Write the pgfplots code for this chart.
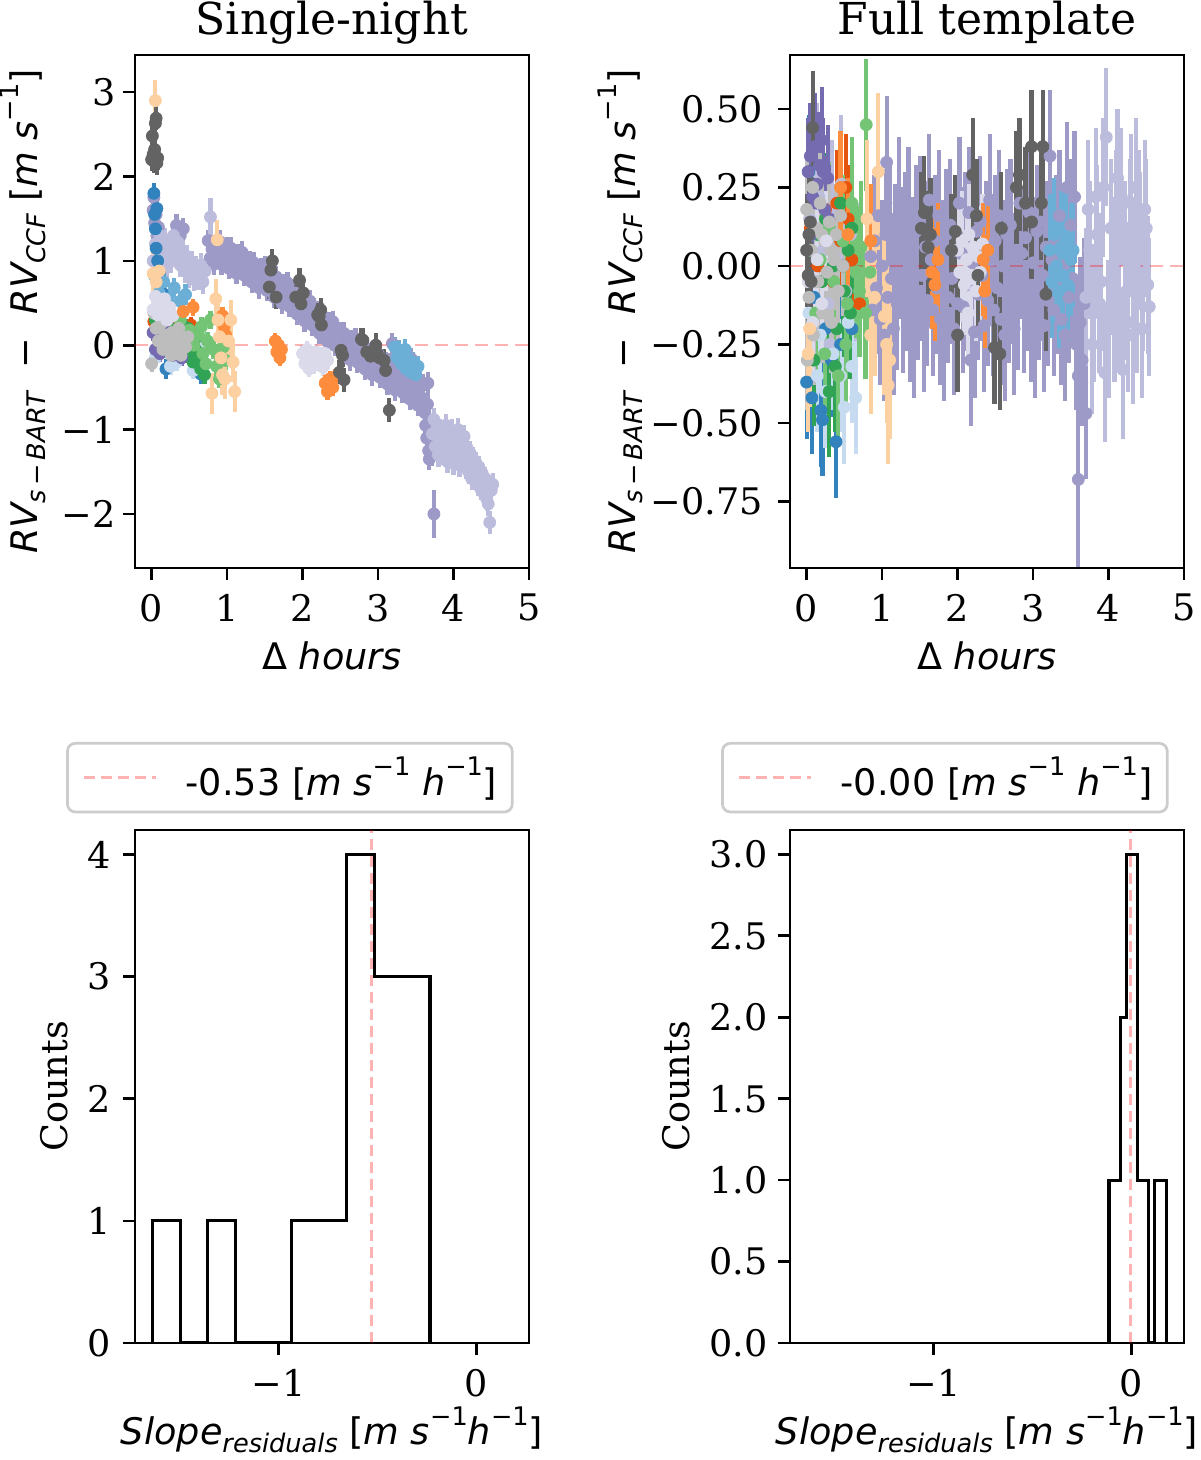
\documentclass[border=0pt]{standalone}
\usepackage{fontspec}
\setmainfont{DejaVu Serif}
\newfontfamily\dvs{DejaVu Sans}
\usepackage{pgfplots}
\pgfplotsset{compat=1.18}
\definecolor{c1}{HTML}{3182BD}
\definecolor{c2}{HTML}{6BAED6}
\definecolor{c3}{HTML}{9ECAE1}
\definecolor{c4}{HTML}{C6DBEF}
\definecolor{c5}{HTML}{E6550D}
\definecolor{c6}{HTML}{FD8D3C}
\definecolor{c7}{HTML}{FDAE6B}
\definecolor{c8}{HTML}{FDD0A2}
\definecolor{c9}{HTML}{31A354}
\definecolor{c10}{HTML}{74C476}
\definecolor{c13}{HTML}{756BB1}
\definecolor{c14}{HTML}{9E9AC8}
\definecolor{c15}{HTML}{BCBDDC}
\definecolor{c16}{HTML}{DADAEB}
\definecolor{c17}{HTML}{636363}
\definecolor{c19}{HTML}{BDBDBD}
\newcommand{\lab}{\fontsize{18.3}{22}\selectfont}
\newcommand{\sbs}[1]{\raisebox{-0.2em}{\fontsize{12.8}{15}\selectfont #1}}
\newcommand{\sps}[1]{\raisebox{0.52em}{\fontsize{12.8}{15}\selectfont #1}}
\pgfplotsset{
  base/.style={scale only axis, width=197pt, height=256.5pt, anchor=south west,
    axis line style={line width=1.35pt}, tick align=outside, tick pos=left,
    major tick length=6.1pt, major tick style={line width=1.35pt, black},
    tick label style={font=\lab}, label style={font=\lab},
    xticklabel style={yshift=-3.5pt},
    title style={font=\fontsize{22}{26}\selectfont, at={(axis description cs:0.5,1)}, anchor=base, yshift=4pt},
    xlabel style={at={(axis description cs:0.5,0)}, anchor=base, yshift=-51pt}},
  rv/.style={only marks, mark=*, mark size=3pt, color=#1, mark options={draw=none, fill=#1},
    error bars/y dir=both, error bars/y explicit, error bars/error mark=none,
    error bars/error bar style={line width=2.1pt, color=#1}},
  zl/.style={red, opacity=0.3, line width=1.2pt, dash pattern=on 6.5pt off 3.5pt},
  leg/.style={legend style={at={(axis description cs:0.393,1.102)}, anchor=center, draw=black!20, line width=1.35pt,
    rounded corners=4pt, fill=white, inner xsep=7.5pt, inner ysep=7pt, font=\lab, nodes={inner sep=0pt}},
    legend image code/.code={\draw[##1] (0pt,0pt) -- (36pt,0pt); \path[draw=none] (0pt,0pt) -- (51pt,0pt);}},
}
\begin{document}
\begin{tikzpicture}
\useasboundingbox (0,0) rectangle (600pt,730pt);
% ---------------- Single-night ----------------
\begin{axis}[base, at={(67.5pt,446pt)}, xmin=-0.22, xmax=5, ymin=-2.64, ymax=3.44,
  xtick={0,1,2,3,4,5}, xticklabels={0,1,2,3,4,5},
  ytick={-2,-1,0,1,2,3}, yticklabels={−2,−1,0,1,2,3},
  title={Single-night},
  xlabel={\dvs Δ \itshape hours},
  ylabel={\dvs\itshape RV\sbs{s\,\upshape−\,\itshape BART}\ \ \upshape−\ \ \itshape RV\sbs{CCF}\ \upshape[\itshape m s\sps{\upshape−1}\upshape]},
  ylabel style={at={(axis description cs:-0.285,0.5)}, anchor=center}]
\addplot[rv=c14] table[row sep=\\, y error expr=0.13] {x y\\ 0.02 1.60\\ 0.03 1.75\\ 0.04 1.45\\ 0.06 1.55\\ 0.07 1.30\\ 0.09 1.40\\ 0.30 1.25\\ 0.33 1.42\\ 0.38 1.30\\ 0.42 1.38\\ 0.750 1.24\\ 0.775 1.03\\ 0.800 1.14\\ 0.825 0.96\\ 0.850 1.18\\ 0.875 1.07\\ 0.900 1.23\\ 0.925 0.96\\ 0.950 1.11\\ 0.975 1.00\\ 1.000 1.15\\ 1.025 0.91\\ 1.050 1.15\\ 1.075 0.93\\ 1.100 1.03\\ 1.125 0.85\\ 1.150 1.07\\ 1.175 0.94\\ 1.200 1.10\\ 1.225 0.83\\ 1.250 0.97\\ 1.275 0.85\\ 1.300 0.99\\ 1.325 0.75\\ 1.350 0.98\\ 1.375 0.77\\ 1.400 0.87\\ 1.425 0.68\\ 1.450 0.90\\ 1.475 0.77\\ 1.500 0.93\\ 1.525 0.65\\ 1.550 0.80\\ 1.575 0.67\\ 1.600 0.82\\ 1.625 0.57\\ 1.650 0.81\\ 1.675 0.59\\ 1.700 0.68\\ 1.725 0.50\\ 1.750 0.71\\ 1.775 0.58\\ 1.800 0.74\\ 1.825 0.46\\ 1.850 0.60\\ 1.875 0.47\\ 1.900 0.62\\ 1.925 0.37\\ 1.950 0.60\\ 1.975 0.39\\ 2.000 0.48\\ 2.025 0.29\\ 2.050 0.50\\ 2.075 0.37\\ 2.100 0.52\\ 2.125 0.24\\ 2.150 0.38\\ 2.175 0.25\\ 2.200 0.39\\ 2.225 0.14\\ 2.250 0.37\\ 2.275 0.15\\ 2.300 0.24\\ 2.325 0.05\\ 2.350 0.26\\ 2.375 0.13\\ 2.400 0.28\\ 2.425 0.00\\ 2.450 0.14\\ 2.475 0.01\\ 2.500 0.15\\ 2.525 -0.10\\ 2.550 0.14\\ 2.575 -0.08\\ 2.600 0.02\\ 2.625 -0.17\\ 2.650 0.05\\ 2.675 -0.08\\ 2.700 0.08\\ 2.725 -0.20\\ 2.750 -0.05\\ 2.775 -0.18\\ 2.800 -0.03\\ 2.825 -0.28\\ 2.850 -0.04\\ 2.875 -0.26\\ 2.900 -0.16\\ 2.925 -0.35\\ 2.950 -0.13\\ 2.975 -0.26\\ 3.000 -0.10\\ 3.025 -0.38\\ 3.050 -0.23\\ 3.075 -0.36\\ 3.100 -0.21\\ 3.125 -0.46\\ 3.150 -0.22\\ 3.175 -0.44\\ 3.190 0.02\\ 3.200 -0.34\\ 3.225 -0.53\\ 3.250 -0.31\\ 3.275 -0.44\\ 3.300 -0.29\\ 3.325 -0.56\\ 3.350 -0.42\\ 3.375 -0.54\\ 3.400 -0.40\\ 3.425 -0.64\\ 3.440 -0.16\\ 3.450 -0.41\\ 3.475 -0.62\\ 3.500 -0.53\\ 3.525 -0.71\\ 3.550 -0.50\\ 3.575 -0.62\\ 3.600 -0.47\\ 3.620 -0.80\\ 3.630 -0.95\\ 3.645 -1.10\\ 3.655 -0.70\\ 3.660 -0.45\\ 3.670 -1.25\\ 3.680 -1.35\\ 3.690 -1.05\\ 3.710 -1.30\\};
\addplot[rv=c14] table[row sep=\\, y error expr=0.28] {x y\\ 3.74 -2.00\\};
\addplot[rv=c15] table[row sep=\\, y error expr=0.14] {x y\\ 0.02 1.00\\ 0.05 1.20\\ 0.08 0.95\\ 0.11 1.30\\ 0.14 1.05\\ 0.17 1.25\\ 0.20 0.92\\ 0.23 1.18\\ 0.26 1.00\\ 0.29 1.30\\ 0.32 1.08\\ 0.35 1.22\\ 0.38 0.95\\ 0.41 1.12\\ 0.44 0.88\\ 0.47 1.05\\ 0.50 0.82\\ 0.53 0.98\\ 0.56 0.78\\ 0.59 0.92\\ 0.62 0.80\\ 0.65 0.95\\ 0.68 0.75\\ 0.71 0.88\\ 3.72 -1.05\\ 3.74 -0.88\\ 3.76 -1.20\\ 3.78 -0.98\\ 3.80 -1.30\\ 3.82 -1.02\\ 3.84 -1.28\\ 3.86 -1.10\\ 3.88 -1.22\\ 3.90 -0.95\\ 3.92 -1.38\\ 3.94 -1.15\\ 3.96 -1.30\\ 3.98 -1.02\\ 4.00 -1.40\\ 4.02 -1.12\\ 4.04 -1.30\\ 4.06 -1.00\\ 4.08 -1.42\\ 4.10 -1.20\\ 4.12 -1.35\\ 4.14 -1.08\\ 4.16 -1.45\\ 4.18 -1.22\\ 4.20 -1.50\\ 4.22 -1.28\\ 4.24 -1.58\\ 4.26 -1.35\\ 4.28 -1.55\\ 4.30 -1.40\\ 4.32 -1.65\\ 4.34 -1.45\\ 4.36 -1.70\\ 4.38 -1.52\\ 4.40 -1.75\\ 4.42 -1.58\\ 4.44 -1.82\\ 4.46 -1.88\\ 4.48 -2.10\\ 4.50 -1.72\\ 4.52 -1.65\\};
\addplot[rv=c15] table[row sep=\\, y error expr=0.22] {x y\\ 0.78 1.52\\};
\addplot[rv=c1] table[row sep=\\, y error expr=0.12] {x y\\ 0.03 1.80\\ 0.04 1.55\\ 0.05 1.38\\ 0.06 1.15\\ 0.07 1.62\\ 0.08 1.00\\ 0.10 0.85\\ 0.14 0.62\\ 0.20 0.45\\ 0.28 0.30\\ 0.19 -0.28\\ 0.40 0.12\\ 0.55 -0.15\\ 0.65 -0.34\\ 0.35 0.05\\ 0.62 -0.25\\};
\addplot[rv=c2] table[row sep=\\, y error expr=0.12] {x y\\ 0.04 0.82\\ 0.10 0.62\\ 0.16 0.75\\ 0.22 0.55\\ 0.30 0.68\\ 0.38 0.52\\ 0.45 0.60\\};
\addplot[rv=c4] table[row sep=\\, y error expr=0.1] {x y\\ 0.05 -0.15\\ 0.12 -0.05\\ 0.25 -0.25\\ 0.40 -0.10\\ 0.55 -0.30\\ 0.70 0.05\\ 0.33 -0.20\\};
\addplot[rv=c5] table[row sep=\\, y error expr=0.1] {x y\\ 0.03 0.28\\ 0.10 0.20\\ 0.18 0.15\\ 0.30 0.22\\ 0.45 0.10\\ 0.60 0.18\\ 0.52 0.24\\};
\addplot[rv=c9] table[row sep=\\, y error expr=0.11] {x y\\ 0.05 0.30\\ 0.10 0.10\\ 0.15 0.35\\ 0.20 0.00\\ 0.25 0.20\\ 0.30 -0.05\\ 0.35 0.15\\ 0.40 0.25\\ 0.45 -0.10\\ 0.50 0.05\\ 0.55 -0.20\\ 0.60 0.10\\ 0.65 -0.28\\ 0.70 -0.35\\ 0.62 -0.15\\ 0.48 0.20\\ 0.58 -0.05\\};
\addplot[rv=c10] table[row sep=\\, y error expr=0.11] {x y\\ 0.08 0.20\\ 0.14 0.05\\ 0.20 0.28\\ 0.26 -0.05\\ 0.32 0.12\\ 0.38 0.30\\ 0.44 0.02\\ 0.50 0.18\\ 0.56 0.00\\ 0.62 0.12\\ 0.68 -0.10\\ 0.74 0.05\\ 0.78 0.30\\ 0.82 -0.05\\ 0.86 -0.25\\ 0.90 -0.40\\ 0.95 -0.02\\ 0.98 -0.18\\ 0.72 -0.22\\ 0.66 0.22\\};
\addplot[rv=c13] table[row sep=\\, y error expr=0.1] {x y\\ 0.02 0.15\\ 0.05 -0.05\\ 0.08 0.10\\ 0.11 -0.10\\ 0.14 0.05\\ 0.17 0.18\\ 0.20 -0.02\\ 0.24 0.08\\ 0.28 -0.12\\ 0.32 0.02\\ 0.36 -0.08\\ 0.40 -0.15\\ 0.44 0.00\\};
\addplot[rv=c19] table[row sep=\\, y error expr=0.1] {x y\\ 0.00 -0.22\\ 0.03 0.38\\ 0.06 0.20\\ 0.09 0.05\\ 0.12 0.25\\ 0.15 -0.05\\ 0.18 0.12\\ 0.21 0.30\\ 0.24 0.02\\ 0.27 0.15\\ 0.30 -0.08\\ 0.33 0.08\\ 0.36 0.20\\ 0.39 -0.12\\ 0.42 0.05\\ 0.45 -0.02\\ 0.48 0.10\\ 0.26 -0.12\\ 0.35 0.00\\};
\addplot[rv=c16] table[row sep=\\, y error expr=0.1] {x y\\ 0.02 0.42\\ 0.05 0.58\\ 0.08 0.36\\ 0.11 0.50\\ 0.14 0.40\\ 0.17 0.55\\ 0.20 0.30\\ 0.24 0.45\\ 0.28 0.35\\ 2.00 -0.10\\ 2.03 -0.22\\ 2.06 -0.05\\ 2.09 -0.28\\ 2.12 -0.14\\ 2.15 -0.24\\ 2.18 -0.08\\ 2.21 -0.20\\ 2.24 -0.12\\ 2.27 -0.26\\ 2.30 -0.10\\ 2.33 -0.18\\};
\addplot[rv=c2] table[row sep=\\, y error expr=0.12] {x y\\ 3.22 -0.02\\ 3.25 -0.15\\ 3.28 -0.06\\ 3.31 -0.22\\ 3.34 -0.10\\ 3.37 -0.28\\ 3.40 -0.16\\ 3.43 -0.32\\ 3.46 -0.20\\ 3.50 -0.35\\ 3.53 -0.25\\ 3.36 -0.05\\};
\addplot[rv=c6] table[row sep=\\, y error expr=0.1] {x y\\ 1.64 0.05\\ 1.66 -0.08\\ 1.68 0.00\\ 1.70 -0.15\\ 1.72 -0.05\\ 2.30 -0.45\\ 2.33 -0.55\\ 2.36 -0.40\\ 2.40 -0.50\\ 2.43 -0.38\\ 0.55 0.45\\ 0.94 0.35\\ 0.96 0.22\\ 0.98 0.12\\ 0.42 0.40\\};
\addplot[rv=c8] table[row sep=\\, y error expr=0.24] {x y\\ 0.05 2.90\\ 0.02 0.85\\ 0.06 0.75\\ 0.10 0.88\\ 0.85 0.55\\ 0.87 1.25\\ 0.88 0.30\\ 0.90 0.10\\ 0.92 -0.15\\ 0.94 -0.35\\ 0.80 -0.57\\ 1.02 0.05\\ 1.05 0.30\\ 1.08 -0.20\\ 1.10 -0.55\\ 0.97 -0.40\\};
\addplot[rv=c17] table[row sep=\\, y error expr=0.14] {x y\\ 0.00 2.20\\ 0.01 2.48\\ 0.02 2.26\\ 0.03 2.18\\ 0.04 2.32\\ 0.05 2.63\\ 0.06 2.69\\ 0.07 2.16\\ 0.08 2.22\\ 1.56 0.69\\ 1.58 0.89\\ 1.60 1.00\\ 1.65 0.57\\ 1.91 0.57\\ 1.96 0.77\\ 1.98 0.49\\ 2.01 0.62\\ 2.20 0.36\\ 2.22 0.34\\ 2.24 0.42\\ 2.25 0.24\\ 2.49 -0.32\\ 2.51 -0.06\\ 2.53 -0.12\\ 2.55 -0.41\\ 2.78 0.07\\ 2.80 0.06\\ 2.85 -0.08\\ 2.90 -0.13\\ 2.97 0.00\\ 2.99 -0.10\\ 3.02 -0.15\\ 3.08 -0.18\\ 3.10 -0.30\\ 3.15 -0.77\\};
\addplot[zl] coordinates {(-0.22,0) (5,0)};
\end{axis}
% ---------------- Full template ----------------
\begin{axis}[base, at={(395pt,446pt)}, xmin=-0.22, xmax=5, ymin=-0.962, ymax=0.672,
  xtick={0,1,2,3,4,5}, xticklabels={0,1,2,3,4,5},
  ytick={-0.75,-0.5,-0.25,0,0.25,0.5}, yticklabels={−0.75,−0.50,−0.25,0.00,0.25,0.50},
  yticklabel style={xshift=-4pt},
  title={Full template},
  xlabel={\dvs Δ \itshape hours},
  ylabel={\dvs\itshape RV\sbs{s\,\upshape−\,\itshape BART}\ \ \upshape−\ \ \itshape RV\sbs{CCF}\ \upshape[\itshape m s\sps{\upshape−1}\upshape]},
  ylabel style={at={(axis description cs:-0.43,0.5)}, anchor=center}]
\addplot[rv=c14] table[row sep=\\, y error expr=0.21] {x y\\ 0.850 0.03\\ 0.875 -0.14\\ 0.900 0.08\\ 0.925 -0.07\\ 0.950 0.16\\ 0.975 -0.17\\ 1.000 0.00\\ 1.025 -0.22\\ 1.050 0.10\\ 1.060 0.33\\ 1.075 -0.10\\ 1.100 0.13\\ 1.125 -0.04\\ 1.150 -0.20\\ 1.175 0.05\\ 1.200 -0.12\\ 1.225 0.20\\ 1.250 0.04\\ 1.275 -0.13\\ 1.300 0.09\\ 1.325 -0.06\\ 1.350 0.17\\ 1.375 -0.16\\ 1.400 0.01\\ 1.425 -0.21\\ 1.450 0.11\\ 1.475 -0.09\\ 1.500 0.14\\ 1.525 -0.03\\ 1.550 -0.19\\ 1.575 0.06\\ 1.600 -0.11\\ 1.625 0.21\\ 1.650 0.02\\ 1.675 -0.14\\ 1.700 0.08\\ 1.725 -0.07\\ 1.750 0.16\\ 1.775 -0.17\\ 1.800 0.00\\ 1.825 -0.22\\ 1.850 0.10\\ 1.875 -0.10\\ 1.900 0.13\\ 1.925 -0.04\\ 1.950 -0.20\\ 1.975 0.05\\ 2.000 -0.12\\ 2.025 0.20\\ 2.050 0.04\\ 2.075 -0.13\\ 2.100 0.09\\ 2.125 -0.06\\ 2.150 0.17\\ 2.175 -0.30\\ 2.200 0.01\\ 2.225 -0.21\\ 2.250 0.11\\ 2.275 -0.09\\ 2.300 0.14\\ 2.325 -0.03\\ 2.350 -0.19\\ 2.375 0.06\\ 2.400 -0.11\\ 2.425 0.21\\ 2.450 0.02\\ 2.475 -0.14\\ 2.500 0.08\\ 2.525 -0.07\\ 2.550 0.16\\ 2.575 -0.17\\ 2.600 0.00\\ 2.625 -0.22\\ 2.650 0.10\\ 2.675 -0.10\\ 2.700 0.13\\ 2.725 -0.04\\ 2.750 -0.20\\ 2.775 0.05\\ 2.800 -0.12\\ 2.825 0.20\\ 2.850 0.04\\ 2.875 -0.13\\ 2.900 0.09\\ 2.925 -0.06\\ 2.950 0.17\\ 2.975 -0.16\\ 3.000 0.01\\ 3.025 -0.21\\ 3.050 0.11\\ 3.075 -0.09\\ 3.100 0.14\\ 3.125 -0.03\\ 3.150 -0.19\\ 3.175 0.06\\ 3.200 -0.11\\ 3.225 0.35\\ 3.250 0.02\\ 3.275 -0.14\\ 3.300 0.08\\ 3.325 -0.07\\ 3.350 0.16\\ 3.375 -0.17\\ 3.400 0.00\\ 3.425 -0.22\\ 3.450 0.25\\ 3.475 -0.10\\ 3.500 0.13\\ 3.525 -0.04\\ 3.550 0.22\\ 3.575 -0.25\\ 3.600 -0.35\\ 3.625 -0.18\\ 3.650 -0.30\\ 3.675 -0.12\\ 3.700 -0.47\\};
\addplot[rv=c14] table[row sep=\\, y error expr=0.28] {x y\\ 3.60 -0.68\\};
\addplot[rv=c15] table[row sep=\\, y error expr=0.22] {x y\\ 0.04 0.15\\ 0.10 -0.05\\ 0.16 0.22\\ 0.22 0.05\\ 0.28 -0.12\\ 0.34 0.18\\ 0.40 0.02\\ 0.46 0.26\\ 0.52 -0.08\\ 0.58 0.10\\ 0.66 -0.02\\ 0.13 0.30\\ 0.31 -0.25\\ 3.70 -0.10\\ 3.73 0.18\\ 3.75 0.05\\ 3.78 -0.25\\ 3.80 -0.15\\ 3.83 0.22\\ 3.85 0.10\\ 3.88 -0.12\\ 3.90 -0.05\\ 3.93 0.25\\ 3.95 -0.34\\ 3.97 0.41\\ 4.00 -0.20\\ 4.03 0.12\\ 4.06 0.00\\ 4.08 -0.15\\ 4.10 0.15\\ 4.12 0.28\\ 4.14 -0.10\\ 4.17 0.22\\ 4.19 -0.33\\ 4.22 0.05\\ 4.24 -0.08\\ 4.26 -0.18\\ 4.28 0.12\\ 4.30 0.20\\ 4.32 -0.22\\ 4.34 0.00\\ 4.36 0.25\\ 4.38 -0.12\\ 4.40 0.15\\ 4.42 0.08\\ 4.44 -0.20\\ 4.46 -0.05\\ 4.48 0.18\\ 4.50 0.12\\ 4.52 -0.06\\ 4.54 -0.13\\};
\addplot[rv=c1] table[row sep=\\, y error expr=0.18] {x y\\ 0.00 -0.37\\ 0.19 -0.46\\ 0.21 -0.49\\ 0.39 -0.56\\ 0.03 0.30\\ 0.10 -0.10\\ 0.25 -0.20\\ 0.33 -0.30\\ 0.45 -0.25\\ 0.60 -0.20\\ 0.07 -0.42\\};
\addplot[rv=c4] table[row sep=\\, y error expr=0.18] {x y\\ 0.03 -0.15\\ 0.10 -0.30\\ 0.18 -0.22\\ 0.25 -0.40\\ 0.35 -0.28\\ 0.45 -0.35\\ 0.55 -0.18\\ 0.65 -0.42\\ 0.14 -0.35\\ 0.50 -0.45\\ 0.60 -0.32\\};
\addplot[rv=c5] table[row sep=\\, y error expr=0.17] {x y\\ 0.05 0.12\\ 0.15 0.00\\ 0.25 0.18\\ 0.35 -0.05\\ 0.45 0.08\\ 0.52 0.25\\ 0.60 0.02\\ 0.70 -0.12\\ 0.40 0.20\\ 0.55 0.15\\};
\addplot[rv=c9] table[row sep=\\, y error expr=0.21] {x y\\ 0.05 0.05\\ 0.10 -0.30\\ 0.15 0.10\\ 0.20 -0.05\\ 0.25 0.15\\ 0.30 -0.40\\ 0.35 0.00\\ 0.40 -0.20\\ 0.45 0.20\\ 0.50 -0.08\\ 0.55 0.05\\ 0.60 0.12\\ 0.38 -0.32\\ 0.48 0.00\\ 0.58 -0.15\\};
\addplot[rv=c10] table[row sep=\\, y error expr=0.21] {x y\\ 0.79 0.45\\ 0.05 0.10\\ 0.12 -0.15\\ 0.18 0.02\\ 0.24 -0.28\\ 0.30 0.12\\ 0.36 -0.05\\ 0.42 -0.35\\ 0.48 0.08\\ 0.54 -0.12\\ 0.60 0.20\\ 0.66 -0.02\\ 0.72 0.06\\ 0.78 -0.15\\ 0.84 -0.02\\ 0.52 -0.25\\ 0.70 -0.08\\};
\addplot[rv=c13] table[row sep=\\, y error expr=0.17] {x y\\ 0.02 0.30\\ 0.05 0.35\\ 0.08 0.22\\ 0.11 0.38\\ 0.14 0.26\\ 0.17 0.32\\ 0.20 0.40\\ 0.24 0.18\\ 0.28 0.28\\ 0.30 0.15\\ 0.06 0.10\\ 0.13 0.20\\ 0.22 0.30\\};
\addplot[rv=c19] table[row sep=\\, y error expr=0.16] {x y\\ 0.00 0.18\\ 0.03 -0.10\\ 0.06 0.05\\ 0.09 -0.22\\ 0.12 0.12\\ 0.15 -0.05\\ 0.18 0.20\\ 0.21 -0.15\\ 0.24 0.08\\ 0.27 -0.02\\ 0.30 0.14\\ 0.33 -0.18\\ 0.36 0.02\\ 0.39 0.10\\ 0.42 -0.08\\ 0.45 0.16\\ 0.48 0.00\\ 0.01 -0.30\\ 0.08 0.25\\ 0.20 0.10\\ 0.32 0.05\\};
\addplot[rv=c16] table[row sep=\\, y error expr=0.16] {x y\\ 0.02 -0.05\\ 0.08 -0.18\\ 0.14 0.02\\ 0.20 -0.12\\ 0.26 0.08\\ 2.00 0.05\\ 2.03 -0.02\\ 2.06 0.08\\ 2.09 -0.06\\ 2.12 0.02\\ 2.15 0.10\\ 2.18 -0.04\\ 2.21 0.06\\ 2.24 -0.08\\ 2.27 0.03\\ 2.30 -0.02\\ 2.14 -0.15\\ 2.33 0.07\\};
\addplot[rv=c2] table[row sep=\\, y error expr=0.18] {x y\\ 3.22 0.05\\ 3.25 -0.05\\ 3.28 0.10\\ 3.31 0.00\\ 3.34 -0.08\\ 3.37 0.06\\ 3.40 -0.03\\ 3.43 0.08\\ 3.46 -0.06\\ 3.50 0.02\\ 3.53 0.05\\};
\addplot[rv=c6] table[row sep=\\, y error expr=0.18] {x y\\ 1.66 -0.02\\ 1.70 -0.06\\ 1.74 0.02\\ 2.34 0.02\\ 2.36 -0.08\\ 2.40 0.05\\ 0.85 0.08\\ 0.45 0.25\\ 0.55 0.10\\};
\addplot[rv=c8] table[row sep=\\, y error expr=0.25] {x y\\ 1.03 -0.16\\ 1.06 -0.25\\ 1.08 -0.38\\ 1.10 -0.30\\ 0.90 -0.10\\ 0.85 -0.22\\ 0.80 0.15\\ 0.95 0.30\\ 0.02 -0.28\\ 0.04 -0.20\\};
\addplot[rv=c17] table[row sep=\\, y error expr=0.18] {x y\\ 0.00 0.05\\ 0.02 -0.03\\ 0.03 0.10\\ 0.05 0.14\\ 0.08 0.44\\ 0.06 -0.05\\ 1.52 0.12\\ 1.56 0.17\\ 1.61 0.06\\ 1.64 0.10\\ 1.92 0.05\\ 1.97 0.11\\ 2.00 -0.22\\ 2.20 0.29\\ 2.25 0.16\\ 2.27 -0.03\\ 2.49 -0.26\\ 2.56 -0.28\\ 2.58 0.12\\ 2.78 0.25\\ 2.82 0.29\\ 2.90 0.20\\ 2.98 0.38\\ 2.98 0.14\\ 3.11 0.20\\ 3.13 0.38\\ 3.17 -0.09\\};
\addplot[zl] coordinates {(-0.22,0) (5,0)};
\end{axis}
% ---------------- Histogram left ----------------
\begin{axis}[base, leg, at={(67.5pt,58.5pt)}, xmin=-1.728, xmax=0.267, ymin=0, ymax=4.2,
  xtick={-1,0}, xticklabels={−1,0},
  ytick={0,1,2,3,4}, yticklabels={0,1,2,3,4},
  yticklabel style={xshift=-2.5pt},
  xlabel={\dvs\itshape Slope\sbs{residuals}\ \upshape[\itshape m s\sps{\upshape−1}h\sps{\upshape−1}\upshape]},
  ylabel={Counts},
  ylabel style={at={(axis description cs:-0.206,0.5)}, anchor=center}]
\addplot[black, line width=1.6pt, forget plot] coordinates {(-1.640,0) (-1.640,1) (-1.499,1) (-1.499,0) (-1.359,0) (-1.359,1) (-1.218,1) (-1.218,0) (-0.937,0) (-0.937,1) (-0.656,1) (-0.656,4) (-0.515,4) (-0.515,3) (-0.234,3) (-0.234,0)};
\addplot[red, opacity=0.3, line width=1.3pt, dash pattern=on 5.5pt off 3pt] coordinates {(-0.532,0) (-0.532,4.2)};
\addlegendentry{\dvs -0.53 [\itshape m s\sps{\upshape−1} h\sps{\upshape−1}\upshape]}
\end{axis}
% ---------------- Histogram right ----------------
\begin{axis}[base, leg, at={(395pt,58.5pt)}, xmin=-1.728, xmax=0.267, ymin=0, ymax=3.15,
  xtick={-1,0}, xticklabels={−1,0},
  ytick={0,0.5,1,1.5,2,2.5,3}, yticklabels={0.0,0.5,1.0,1.5,2.0,2.5,3.0},
  yticklabel style={xshift=-1.5pt},
  xlabel={\dvs\itshape Slope\sbs{residuals}\ \upshape[\itshape m s\sps{\upshape−1}h\sps{\upshape−1}\upshape]},
  ylabel={Counts},
  ylabel style={at={(axis description cs:-0.288,0.5)}, anchor=center}]
\addplot[black, line width=1.6pt, forget plot] coordinates {(-0.113,0) (-0.113,1) (-0.054,1) (-0.054,2) (-0.025,2) (-0.025,3) (0.030,3) (0.030,1) (0.089,1) (0.089,0) (0.118,0) (0.118,1) (0.177,1) (0.177,0)};
\addplot[red, opacity=0.3, line width=1.3pt, dash pattern=on 5.5pt off 3pt] coordinates {(-0.003,0) (-0.003,3.15)};
\addlegendentry{\dvs -0.00 [\itshape m s\sps{\upshape−1} h\sps{\upshape−1}\upshape]}
\end{axis}
\end{tikzpicture}
\end{document}
